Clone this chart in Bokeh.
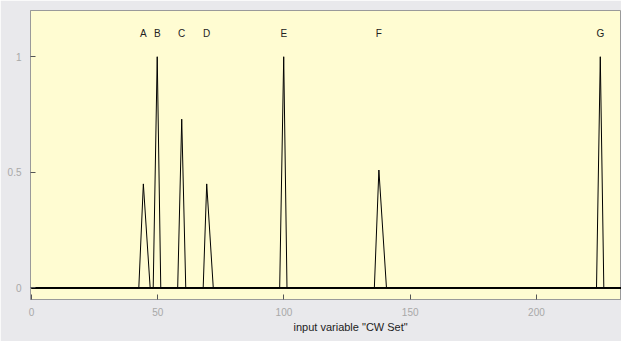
from bokeh.plotting import figure
from bokeh.models import Range1d, FixedTicker, Title, ColumnDataSource
from bokeh.embed import file_html
from bokeh.resources import INLINE
from bokeh.core.properties import value

# membership functions (triangles): left base, peak, right base, peak height
names = ["A", "B", "C", "D", "E", "F", "G"]
left = [42.5, 48.2, 57.9, 68.0, 98.3, 135.8, 223.8]
peak = [44.3, 49.8, 59.5, 69.4, 99.9, 137.6, 225.3]
right = [47.0, 51.2, 61.1, 72.0, 101.2, 140.6, 226.7]
height = [0.45, 1.0, 0.73, 0.45, 1.0, 0.51, 1.0]
var_range = [0, 240]
label_y = 1.10
x_ticks = [0, 50, 100, 150, 200]
y_ticks = [0, 0.5, 1]
x_label = 'input variable "CW Set"'

p = figure(width=621, height=341, output_backend="svg", toolbar_location=None,
           x_range=Range1d(-0.4, 233.7), y_range=Range1d(-0.05, 1.2),
           min_border_left=30, min_border_right=0, min_border_top=10, min_border_bottom=42)
p.border_fill_color = "#e9e9ec"
p.background_fill_color = "#fffcd2"
p.outline_line_color = "#9a9a9a"
p.grid.visible = False

for l, c, r, h in zip(left, peak, right, height):
    xs = [var_range[0], l, c, r, var_range[1]]
    ys = [0, 0, h, 0, 0]
    p.line(xs, ys, line_color="black", line_width=1)

src = ColumnDataSource(dict(x=peak, y=[label_y] * len(peak), t=names))
p.text(x="x", y="y", text="t", source=src, text_align="center", text_baseline="middle",
       text_font=value("Liberation Sans"), text_font_size="10px", text_color="#222222")

for ax in (p.xaxis[0], p.yaxis[0]):
    ax.major_tick_in = 5
    ax.major_tick_out = 0
    ax.minor_tick_line_color = None
    ax.axis_line_color = "#9a9a9a"
    ax.major_tick_line_color = "#555555"
    ax.major_label_text_color = "#a8a8a8"
    ax.major_label_text_font = "Liberation Sans"
    ax.major_label_text_font_size = "10px"

p.xaxis.ticker = FixedTicker(ticks=x_ticks)
p.yaxis.ticker = FixedTicker(ticks=y_ticks)
p.xaxis.major_label_standoff = 8
p.yaxis.major_label_standoff = 9

p.add_layout(Title(text=x_label, align="left", offset=263, standoff=0,
                   text_font="Liberation Sans", text_font_size="11px",
                   text_font_style="normal", text_color="#222222"), "below")

open("out.html", "w").write(file_html(p, INLINE))
